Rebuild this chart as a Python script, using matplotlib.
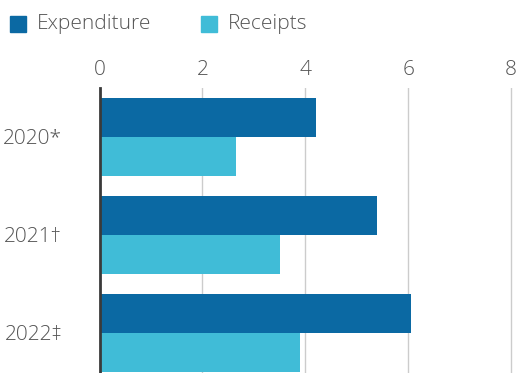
import numpy as np
import matplotlib.pyplot as plt
from matplotlib.patches import Rectangle

plt.rcParams['font.family'] = ['Open Sans', 'DejaVu Sans']
plt.rcParams['font.weight'] = 'light'

years = ['2020*', '2021\u2020', '2022\u2021']
expenditure = [4.2, 5.4, 6.05]
receipts = [2.65, 3.5, 3.9]
x_ticks = [0, 2, 4, 6, 8]

dark_blue = '#0b69a3'
light_blue = '#40bcd7'
text_grey = '#555555'

fig = plt.figure(figsize=(5.18, 3.73), dpi=100)
ax = fig.add_axes([99.5 / 518, 0, 416.6 / 518, 285 / 373])

pos = np.arange(len(years))
h = 0.4
ax.barh(pos - h / 2, expenditure, height=h, color=dark_blue, zorder=3)
ax.barh(pos + h / 2, receipts, height=h, color=light_blue, zorder=3)

ax.set_xlim(0, 8.1)
ax.set_ylim(2.41, -0.5)
ax.xaxis.tick_top()
ax.set_xticks(x_ticks)
ax.set_xticklabels([str(t) for t in x_ticks])
ax.set_yticks(pos)
ax.set_yticklabels(years)
ax.tick_params(axis='x', length=0, pad=6, labelsize=15, labelcolor=text_grey)
ax.tick_params(axis='y', length=0, pad=27, labelsize=15, labelcolor=text_grey)
ax.grid(axis='x', color='#cccccc', lw=1, zorder=0)
ax.grid(axis='y', visible=False)
for s in ['top', 'right', 'bottom']:
    ax.spines[s].set_visible(False)
ax.spines['left'].set_color('#3a3a3a')
ax.spines['left'].set_linewidth(2)
ax.spines['left'].set_zorder(4)

# legend drawn as squares and text along the top
W, H = 518, 373
for x0, colour, label in [(10, dark_blue, 'Expenditure'), (201, light_blue, 'Receipts')]:
    fig.patches.append(Rectangle((x0 / W, 1 - 32 / H), 16 / W, 16 / H,
                                 color=colour, transform=fig.transFigure))
    fig.text((x0 + 27) / W, 1 - 24 / H, label, fontsize=15, color=text_grey,
             va='center', ha='left')

fig.savefig('out.png', dpi=100)
